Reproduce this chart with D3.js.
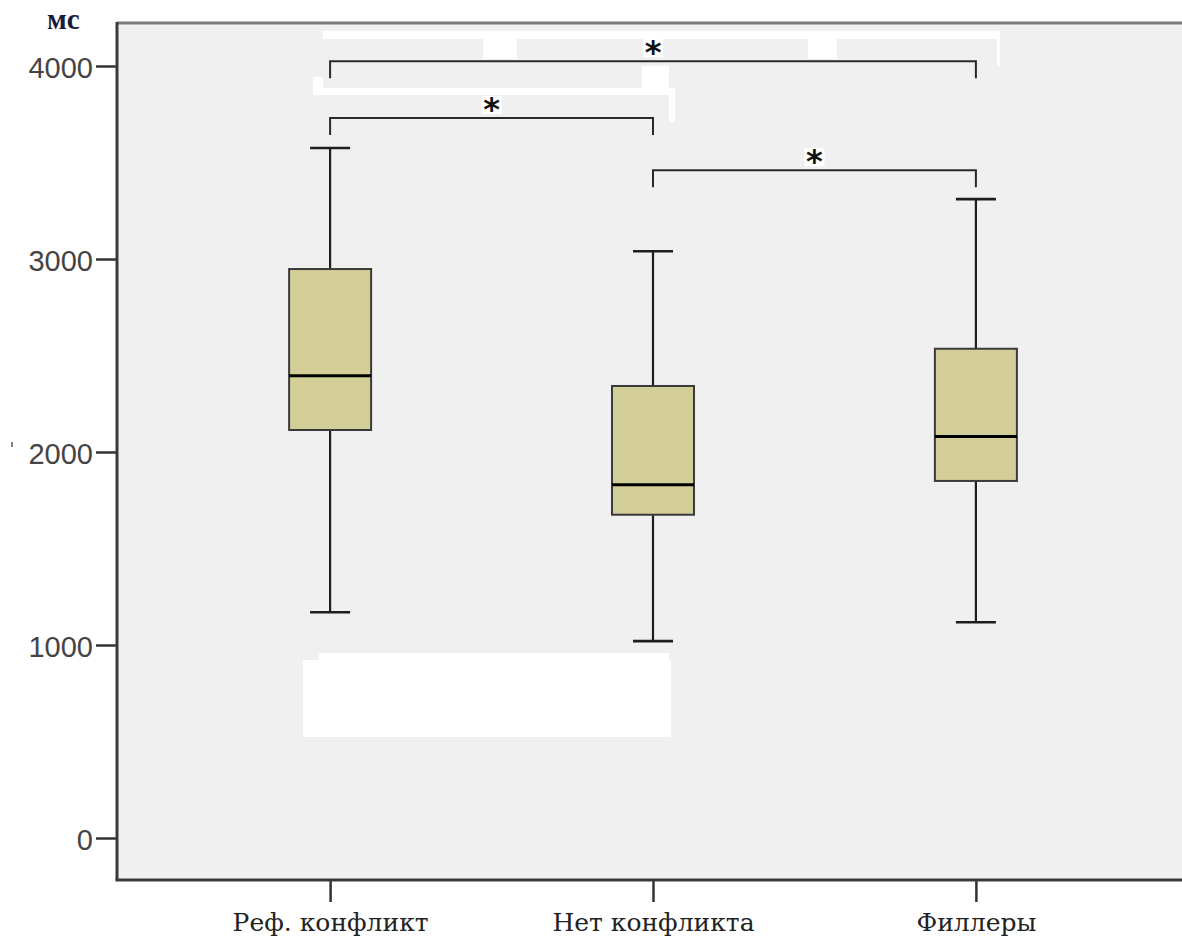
<!DOCTYPE html>
<html lang="ru">
<head>
<meta charset="utf-8">
<script src="https://cdn.jsdelivr.net/npm/d3@7"></script>
<style>
  html, body { margin: 0; padding: 0; background: #ffffff; }
  svg { display: block; }
</style>
</head>
<body>
<svg id="chart" width="1182" height="937"></svg>
<script>
// Reaction times (ms) by condition: box-plot five-number summaries
const categories = ["Реф. конфликт", "Нет конфликта", "Филлеры"];
const whiskerLow = [1170, 1020, 1118];
const q1Values   = [2114, 1675, 1850];
const medians    = [2395, 1830, 2080];
const q3Values   = [2948, 2342, 2535];
const whiskerHigh = [3575, 3040, 3310];
const yTicks = [0, 1000, 2000, 3000, 4000];
const unitLabel = "мс";

// Pairwise comparisons marked as significant
const pairFrom = ["Реф. конфликт", "Реф. конфликт", "Нет конфликта"];
const pairTo   = ["Филлеры", "Нет конфликта", "Филлеры"];
const pairLevel = [4025, 3730, 3460];
const pairMark = ["*", "*", "*"];

const svg = d3.select("#chart");
const frame = { left: 117, top: 22, right: 1182, bottom: 880 };

const y = d3.scaleLinear().domain([0, 4000]).range([838, 66]);
const x = d3.scalePoint().domain(categories).range([frame.left, 1189]).padding(0.66);

const boxW = 82, capW = 40, dropLen = 88; // dropLen in value units

// plot background
svg.append("rect")
  .attr("x", frame.left).attr("y", frame.top)
  .attr("width", frame.right - frame.left).attr("height", frame.bottom - frame.top)
  .attr("fill", "#f0f0f0");

// top border
svg.append("line")
  .attr("x1", frame.left).attr("x2", frame.right)
  .attr("y1", frame.top + 1).attr("y2", frame.top + 1)
  .attr("stroke", "#7a7a7a").attr("stroke-width", 3);

// white cover-up patches over the annotation area
const patches = [
  [323, 31, 676, 8], [483, 39, 34, 20], [808, 39, 29, 20], [997, 31, 3, 35],
  [313, 77, 10, 18], [323, 88, 350, 7], [642, 66, 27, 22], [669, 88, 6, 34],
  [303, 660, 368, 77], [319, 653, 350, 8]
];
svg.append("g").selectAll("rect").data(patches).join("rect")
  .attr("x", d => d[0]).attr("y", d => d[1])
  .attr("width", d => d[2]).attr("height", d => d[3])
  .attr("fill", "#ffffff");

// boxes
const data = categories.map((c, i) => ({
  c, lo: whiskerLow[i], q1: q1Values[i], med: medians[i], q3: q3Values[i], hi: whiskerHigh[i]
}));

const g = svg.append("g").selectAll("g").data(data).join("g")
  .attr("transform", d => `translate(${x(d.c)},0)`);

g.append("line")
  .attr("x1", 0).attr("x2", 0)
  .attr("y1", d => y(d.hi)).attr("y2", d => y(d.q3))
  .attr("stroke", "#1e1e1e").attr("stroke-width", 2.2);
g.append("line")
  .attr("x1", 0).attr("x2", 0)
  .attr("y1", d => y(d.q1)).attr("y2", d => y(d.lo))
  .attr("stroke", "#1e1e1e").attr("stroke-width", 2.2);
g.append("line")
  .attr("x1", -capW / 2).attr("x2", capW / 2)
  .attr("y1", d => y(d.hi)).attr("y2", d => y(d.hi))
  .attr("stroke", "#1e1e1e").attr("stroke-width", 2.6);
g.append("line")
  .attr("x1", -capW / 2).attr("x2", capW / 2)
  .attr("y1", d => y(d.lo)).attr("y2", d => y(d.lo))
  .attr("stroke", "#1e1e1e").attr("stroke-width", 2.6);
g.append("rect")
  .attr("x", -boxW / 2).attr("width", boxW)
  .attr("y", d => y(d.q3)).attr("height", d => y(d.q1) - y(d.q3))
  .attr("fill", "#d3cd98").attr("stroke", "#3a3a3a").attr("stroke-width", 2);
g.append("line")
  .attr("x1", -boxW / 2).attr("x2", boxW / 2)
  .attr("y1", d => y(d.med)).attr("y2", d => y(d.med))
  .attr("stroke", "#000000").attr("stroke-width", 3);

// significance brackets
const pairs = pairFrom.map((a, i) => ({ a, b: pairTo[i], v: pairLevel[i], m: pairMark[i] }));
const br = svg.append("g").selectAll("g").data(pairs).join("g");
br.append("path")
  .attr("d", d => {
    const x1 = x(d.a), x2 = x(d.b), yy = y(d.v), yd = y(d.v - dropLen);
    return `M${x1},${yd}V${yy}H${x2}V${yd}`;
  })
  .attr("fill", "none").attr("stroke", "#2a2a2a").attr("stroke-width", 2);
br.append("rect")
  .attr("x", d => (x(d.a) + x(d.b)) / 2 - 10)
  .attr("y", d => y(d.v) - 22)
  .attr("width", 20).attr("height", 18)
  .attr("fill", "#ffffff");
br.append("text")
  .attr("x", d => (x(d.a) + x(d.b)) / 2)
  .attr("y", d => y(d.v) + 2)
  .attr("text-anchor", "middle")
  .attr("font-family", "DejaVu Sans")
  .attr("font-weight", "bold")
  .attr("font-size", 32)
  .attr("fill", "#111")
  .text(d => d.m);

// y axis
const yAxis = svg.append("g")
  .attr("transform", `translate(${frame.left},0)`)
  .call(d3.axisLeft(y).tickValues(yTicks).tickSize(21).tickPadding(3).tickFormat(d3.format("d")));
yAxis.select(".domain").remove();
yAxis.selectAll(".tick line").attr("stroke", "#333").attr("stroke-width", 2.5);
yAxis.selectAll(".tick text")
  .attr("font-family", "Liberation Sans, Arial, sans-serif")
  .attr("font-size", 29).attr("fill", "#444").attr("dy", "0.4em");
svg.append("line")
  .attr("x1", frame.left).attr("x2", frame.left)
  .attr("y1", frame.top).attr("y2", frame.bottom)
  .attr("stroke", "#3a3a3a").attr("stroke-width", 3);

// x axis
const xAxis = svg.append("g")
  .attr("transform", `translate(0,${frame.bottom})`)
  .call(d3.axisBottom(x).tickSize(22).tickPadding(11));
xAxis.select(".domain").remove();
xAxis.selectAll(".tick line").attr("stroke", "#333").attr("stroke-width", 2.5);
xAxis.selectAll(".tick text")
  .attr("font-family", "DejaVu Serif, serif")
  .attr("font-size", 25).attr("fill", "#222");
svg.append("line")
  .attr("x1", frame.left - 1.5).attr("x2", frame.right)
  .attr("y1", frame.bottom).attr("y2", frame.bottom)
  .attr("stroke", "#3a3a3a").attr("stroke-width", 3);

// unit label
svg.append("text")
  .attr("x", 47).attr("y", 29)
  .attr("font-family", "Liberation Serif, serif")
  .attr("font-weight", "bold")
  .attr("font-size", 29)
  .attr("fill", "#1a1a3a")
  .text(unitLabel);

// stray mark left of the axis
svg.append("line")
  .attr("x1", 12).attr("x2", 12).attr("y1", 442).attr("y2", 447)
  .attr("stroke", "#555").attr("stroke-width", 1.5);
</script>
</body>
</html>
